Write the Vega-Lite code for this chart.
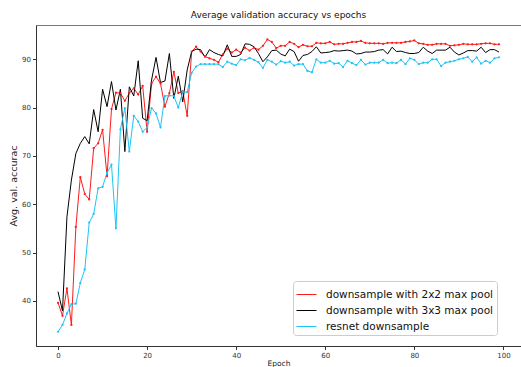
{
  "$schema": "https://vega.github.io/schema/vega-lite/v6.json",
  "width": 485,
  "height": 321,
  "autosize": {"type": "none"},
  "padding": {"left": 36, "top": 25, "right": 0, "bottom": 21},
  "background": "white",
  "title": {"text": "Average validation accuracy vs epochs", "fontSize": 9, "fontWeight": "normal", "font": "DejaVu Sans", "color": "#111", "offset": 5},
  "config": {
    "view": {"stroke": "#777", "strokeWidth": 1},
    "axis": {"grid": false, "labelFont": "DejaVu Sans", "titleFont": "DejaVu Sans", "labelFontSize": 7, "titleFontSize": 7.5, "titleFontWeight": "normal", "labelColor": "#333", "titleColor": "#222", "domainColor": "#333", "tickColor": "#333", "tickSize": 3.5, "labelPadding": 2}
  },
  "data": {"values": [
    {"epoch":0,"r":39.6,"k":41.9,"c":33.6},
    {"epoch":1,"r":36.9,"k":37.9,"c":35.0},
    {"epoch":2,"r":42.6,"k":57.4,"c":37.4},
    {"epoch":3,"r":35.0,"k":65.0,"c":39.3},
    {"epoch":4,"r":55.3,"k":70.5,"c":39.4},
    {"epoch":5,"r":65.6,"k":72.6,"c":43.7},
    {"epoch":6,"r":62.1,"k":74.0,"c":46.5},
    {"epoch":7,"r":61.0,"k":72.5,"c":56.2},
    {"epoch":8,"r":71.6,"k":79.6,"c":58.0},
    {"epoch":9,"r":72.6,"k":75.0,"c":63.3},
    {"epoch":10,"r":75.4,"k":83.8,"c":63.6},
    {"epoch":11,"r":65.8,"k":80.2,"c":66.5},
    {"epoch":12,"r":79.7,"k":85.4,"c":68.2},
    {"epoch":13,"r":83.1,"k":79.5,"c":55.0},
    {"epoch":14,"r":83.0,"k":83.8,"c":75.5},
    {"epoch":15,"r":81.4,"k":70.9,"c":79.9},
    {"epoch":16,"r":83.0,"k":84.3,"c":70.9},
    {"epoch":17,"r":84.0,"k":82.4,"c":78.3},
    {"epoch":18,"r":82.7,"k":89.7,"c":77.1},
    {"epoch":19,"r":84.5,"k":77.8,"c":75.0},
    {"epoch":20,"r":75.0,"k":77.3,"c":75.9},
    {"epoch":21,"r":85.0,"k":85.7,"c":79.9},
    {"epoch":22,"r":86.4,"k":90.4,"c":78.8},
    {"epoch":23,"r":85.0,"k":85.2,"c":75.9},
    {"epoch":24,"r":80.2,"k":85.5,"c":82.4},
    {"epoch":25,"r":83.0,"k":91.2,"c":82.5},
    {"epoch":26,"r":87.4,"k":81.9,"c":82.4},
    {"epoch":27,"r":83.0,"k":86.5,"c":80.0},
    {"epoch":28,"r":83.4,"k":81.2,"c":83.3},
    {"epoch":29,"r":78.3,"k":87.8,"c":83.2},
    {"epoch":30,"r":91.6,"k":91.6,"c":87.2},
    {"epoch":31,"r":92.6,"k":92.1,"c":88.5},
    {"epoch":32,"r":91.6,"k":92.0,"c":89.0},
    {"epoch":33,"r":90.6,"k":90.4,"c":89.0},
    {"epoch":34,"r":90.2,"k":92.0,"c":89.0},
    {"epoch":35,"r":89.9,"k":91.4,"c":89.0},
    {"epoch":36,"r":89.4,"k":91.0,"c":89.0},
    {"epoch":37,"r":91.0,"k":90.7,"c":88.4},
    {"epoch":38,"r":92.2,"k":93.0,"c":89.5},
    {"epoch":39,"r":91.4,"k":90.6,"c":89.1},
    {"epoch":40,"r":92.0,"k":90.6,"c":88.8},
    {"epoch":41,"r":91.4,"k":91.0,"c":90.0},
    {"epoch":42,"r":92.4,"k":93.2,"c":89.8},
    {"epoch":43,"r":91.8,"k":93.1,"c":90.3},
    {"epoch":44,"r":92.4,"k":92.6,"c":89.9},
    {"epoch":45,"r":92.0,"k":91.2,"c":89.4},
    {"epoch":46,"r":92.8,"k":89.5,"c":88.2},
    {"epoch":47,"r":94.1,"k":90.5,"c":89.9},
    {"epoch":48,"r":93.6,"k":91.8,"c":89.5},
    {"epoch":49,"r":92.3,"k":91.9,"c":88.9},
    {"epoch":50,"r":92.8,"k":91.1,"c":89.6},
    {"epoch":51,"r":92.8,"k":90.7,"c":89.3},
    {"epoch":52,"r":93.6,"k":92.1,"c":89.5},
    {"epoch":53,"r":93.2,"k":91.6,"c":88.7},
    {"epoch":54,"r":92.5,"k":89.6,"c":89.0},
    {"epoch":55,"r":93.0,"k":90.8,"c":89.0},
    {"epoch":56,"r":92.7,"k":91.0,"c":87.6},
    {"epoch":57,"r":92.7,"k":91.6,"c":87.3},
    {"epoch":58,"r":93.4,"k":92.6,"c":90.0},
    {"epoch":59,"r":93.3,"k":91.3,"c":89.3},
    {"epoch":60,"r":93.3,"k":91.4,"c":89.3},
    {"epoch":61,"r":93.6,"k":91.5,"c":89.7},
    {"epoch":62,"r":93.1,"k":91.8,"c":89.1},
    {"epoch":63,"r":93.2,"k":91.7,"c":89.2},
    {"epoch":64,"r":93.2,"k":91.8,"c":88.4},
    {"epoch":65,"r":93.4,"k":91.9,"c":89.7},
    {"epoch":66,"r":93.6,"k":91.7,"c":89.2},
    {"epoch":67,"r":93.6,"k":91.1,"c":88.8},
    {"epoch":68,"r":93.8,"k":91.2,"c":89.9},
    {"epoch":69,"r":93.4,"k":91.5,"c":88.9},
    {"epoch":70,"r":93.3,"k":91.5,"c":89.3},
    {"epoch":71,"r":93.3,"k":91.6,"c":89.3},
    {"epoch":72,"r":93.3,"k":91.9,"c":89.3},
    {"epoch":73,"r":93.2,"k":92.0,"c":89.9},
    {"epoch":74,"r":93.4,"k":91.1,"c":89.2},
    {"epoch":75,"r":93.4,"k":92.5,"c":89.3},
    {"epoch":76,"r":93.4,"k":91.6,"c":89.2},
    {"epoch":77,"r":93.4,"k":91.7,"c":89.9},
    {"epoch":78,"r":93.6,"k":91.4,"c":89.0},
    {"epoch":79,"r":93.7,"k":91.2,"c":90.2},
    {"epoch":80,"r":93.9,"k":91.2,"c":89.9},
    {"epoch":81,"r":93.3,"k":91.4,"c":89.0},
    {"epoch":82,"r":93.2,"k":92.5,"c":89.3},
    {"epoch":83,"r":93.0,"k":91.7,"c":89.3},
    {"epoch":84,"r":93.0,"k":91.2,"c":90.0},
    {"epoch":85,"r":93.2,"k":91.9,"c":90.0},
    {"epoch":86,"r":93.2,"k":91.9,"c":88.6},
    {"epoch":87,"r":93.2,"k":91.9,"c":89.3},
    {"epoch":88,"r":92.8,"k":92.5,"c":89.5},
    {"epoch":89,"r":92.9,"k":91.5,"c":89.7},
    {"epoch":90,"r":93.0,"k":90.9,"c":90.0},
    {"epoch":91,"r":93.2,"k":91.3,"c":90.2},
    {"epoch":92,"r":93.1,"k":91.8,"c":90.5},
    {"epoch":93,"r":93.1,"k":91.8,"c":89.5},
    {"epoch":94,"r":93.1,"k":91.7,"c":90.4},
    {"epoch":95,"r":93.2,"k":92.5,"c":89.1},
    {"epoch":96,"r":93.3,"k":91.4,"c":89.7},
    {"epoch":97,"r":93.3,"k":92.0,"c":89.3},
    {"epoch":98,"r":93.1,"k":92.0,"c":90.2},
    {"epoch":99,"r":93.1,"k":91.5,"c":90.4}
  ]},
  "transform": [{"fold": ["r", "k", "c"], "as": ["series", "acc"]}],
  "encoding": {
    "x": {"field": "epoch", "type": "quantitative", "scale": {"domain": [-4.95, 103.95], "nice": false, "zero": false}, "axis": {"values": [0, 20, 40, 60, 80, 100], "title": "Epoch", "titlePadding": 1}},
    "y": {"field": "acc", "type": "quantitative", "scale": {"domain": [30.65, 97.1], "nice": false, "zero": false}, "axis": {"values": [40, 50, 60, 70, 80, 90], "title": "Avg. val. accurac", "titleFontSize": 9.5, "titlePadding": 3}},
    "color": {"field": "series", "type": "nominal", "scale": {"domain": ["r", "k", "c"], "range": ["#ff1a1a", "#000000", "#1ec3f5"]},
      "legend": {"title": null, "orient": "none", "legendX": 257, "legendY": 256, "labelExpr": "datum.value == 'r' ? 'downsample with 2x2 max pool' : datum.value == 'k' ? 'downsample with 3x3 max pool' : 'resnet downsample'", "labelLimit": 400, "symbolType": "stroke", "symbolSize": 400, "symbolStrokeWidth": 1, "labelFont": "DejaVu Sans", "labelFontSize": 10.5, "labelColor": "#111", "strokeColor": "#ccc", "fillColor": "white", "padding": 3, "cornerRadius": 3, "rowPadding": -6, "labelOffset": 9, "symbolOffset": 0}}
  },
  "layer": [
    {"mark": {"type": "line", "strokeWidth": 1, "clip": true}},
    {"transform": [{"filter": "datum.series != 'k'"}], "mark": {"type": "point", "filled": true, "size": 5, "opacity": 1, "shape": "circle", "clip": true}}
  ]
}
